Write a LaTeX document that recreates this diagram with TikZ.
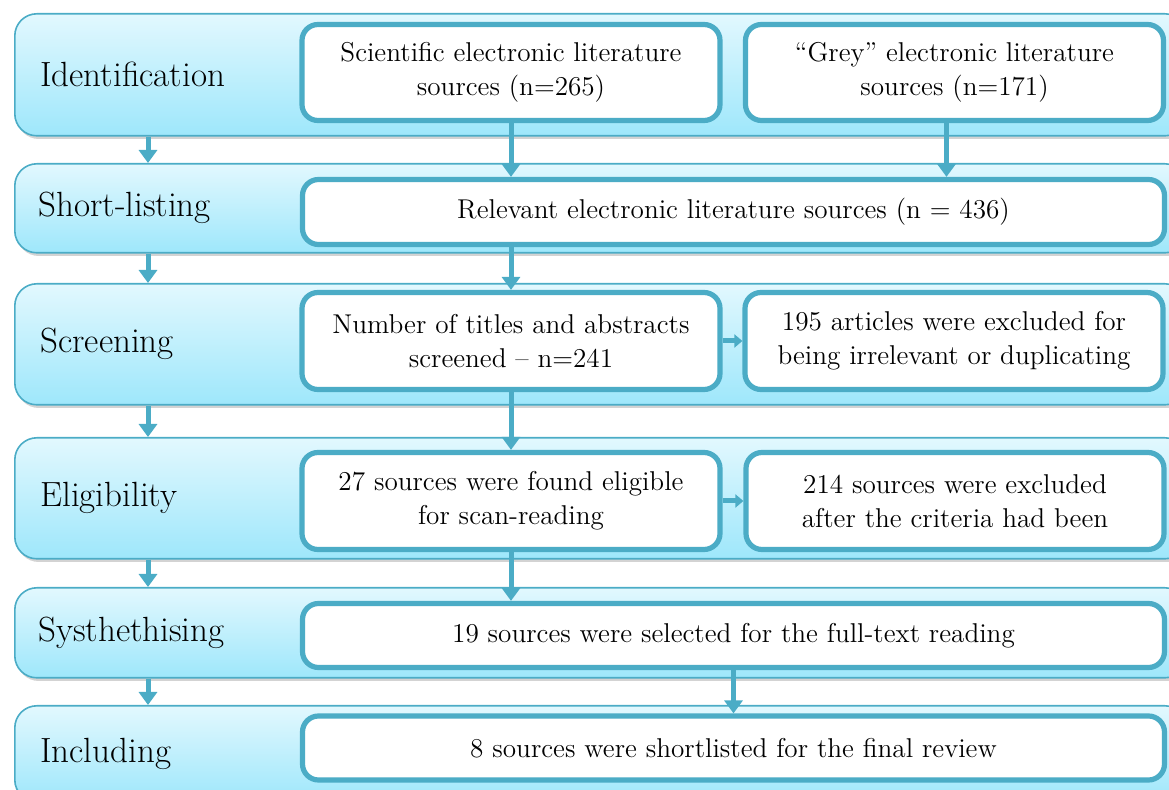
\documentclass[tikz,border=0pt]{standalone}
\usetikzlibrary{positioning,shadows,arrows.meta}
\definecolor{acc}{RGB}{75,172,198}
\definecolor{bandtop}{RGB}{226,248,254}
\definecolor{bandbot}{RGB}{158,231,251}
\tikzset{
  band/.style={draw=acc,line width=0.8pt,rounded corners=11pt,top color=bandtop,bottom color=bandbot,
    minimum width=586pt,anchor=north west,inner sep=0pt,
    drop shadow={shadow xshift=1pt,shadow yshift=-1.6pt,opacity=0.35}},
  lbl/.style={inner sep=0pt,font=\fontsize{17.5}{20}\selectfont},
  box/.style={draw=acc,line width=2.6pt,rounded corners=8pt,fill=white,align=center,
    inner sep=2pt,font=\fontsize{13.6}{16.8}\selectfont},
  flow/.style={draw=acc,line width=2.5pt,-{Triangle[width=9pt,length=6.5pt]}},
  sflow/.style={draw=acc,line width=2.5pt,-{Triangle[width=6.5pt,length=4pt]}}
}
\begin{document}
\begin{tikzpicture}[x=0.5pt,y=-0.5pt]
      \useasboundingbox (0,0) rectangle (1169,790);
      \node[band,minimum height=61pt] (b1) at (14,13) {};
      \node[band,minimum height=44.5pt] (b2) at (14,163) {};
      \node[band,minimum height=60.5pt] (b3) at (14,283) {};
      \node[band,minimum height=60.5pt] (b4) at (14,437) {};
      \node[band,minimum height=45pt] (b5) at (14,587) {};
      \node[band,minimum height=48pt] (b6) at (14,705) {};
      \node[lbl,right=13pt of b1.west] (l1) {Identification};
      \node[lbl,right=12pt of b2.west] (l2) {Short-listing};
      \node[lbl,right=13pt of b3.west] (l3) {Screening};
      \node[lbl,right=13pt of b4.west] (l4) {Eligibility};
      \node[lbl,right=12pt of b5.west] (l5) {Systhethising};
      \node[lbl,right=13pt of b6.west] (l6) {Including};
      \node[box,minimum width=209pt,minimum height=48pt] (sci) at (511,72.5) {Scientific electronic literature\\sources (n=265)};
      \node[box,minimum width=209pt,minimum height=48pt] (grey) at (954.5,72.5) {``Grey'' electronic literature\\sources (n=171)};
      \node[box,minimum width=431pt,minimum height=32.5pt] (rel) at (733.5,212) {Relevant electronic literature sources (n = 436)};
      \node[box,minimum width=209pt,minimum height=48.5pt] (scr) at (511,341) {Number of titles and abstracts\\screened -- n=241};
      \node[box,minimum width=209pt,minimum height=48.5pt] (exa) at (954,341) {195 articles were excluded for\\being irrelevant or duplicating};
      \node[box,minimum width=209pt,minimum height=48.5pt] (elig) at (511,501) {27 sources were found eligible\\for scan-reading};
      \node[box,minimum width=209pt,minimum height=48.5pt] (exb) at (955,501) {214 sources were excluded\\after the criteria had been};
      \node[box,minimum width=431pt,minimum height=32pt] (sel) at (733.5,635.5) {19 sources were selected for the full-text reading};
      \node[box,minimum width=431pt,minimum height=32pt] (fin) at (733.5,748) {8 sources were shortlisted for the final review};
      \draw[flow] ([xshift=67pt]b1.south west) -- ([xshift=67pt]b2.north west);
      \draw[flow] ([xshift=67pt]b2.south west) -- ([xshift=67pt]b3.north west);
      \draw[flow] ([xshift=67pt]b3.south west) -- ([xshift=67pt]b4.north west);
      \draw[flow] ([xshift=67pt]b4.south west) -- ([xshift=67pt]b5.north west);
      \draw[flow] ([xshift=67pt]b5.south west) -- ([xshift=67pt]b6.north west);
      \draw[flow] (sci.south) -- (sci.south |- rel.north);
      \draw[flow] ([xshift=-4pt]grey.south) -- ([xshift=-4pt]grey.south |- rel.north);
      \draw[flow] (scr.north |- rel.south) -- (scr.north);
      \draw[sflow] (scr.east) -- (exa.west);
      \draw[flow] (scr.south) -- (elig.north);
      \draw[sflow] (elig.east) -- (exb.west);
      \draw[flow] (elig.south) -- (elig.south |- sel.north);
      \draw[flow] (sel.south) -- (fin.north);
\end{tikzpicture}
\end{document}
